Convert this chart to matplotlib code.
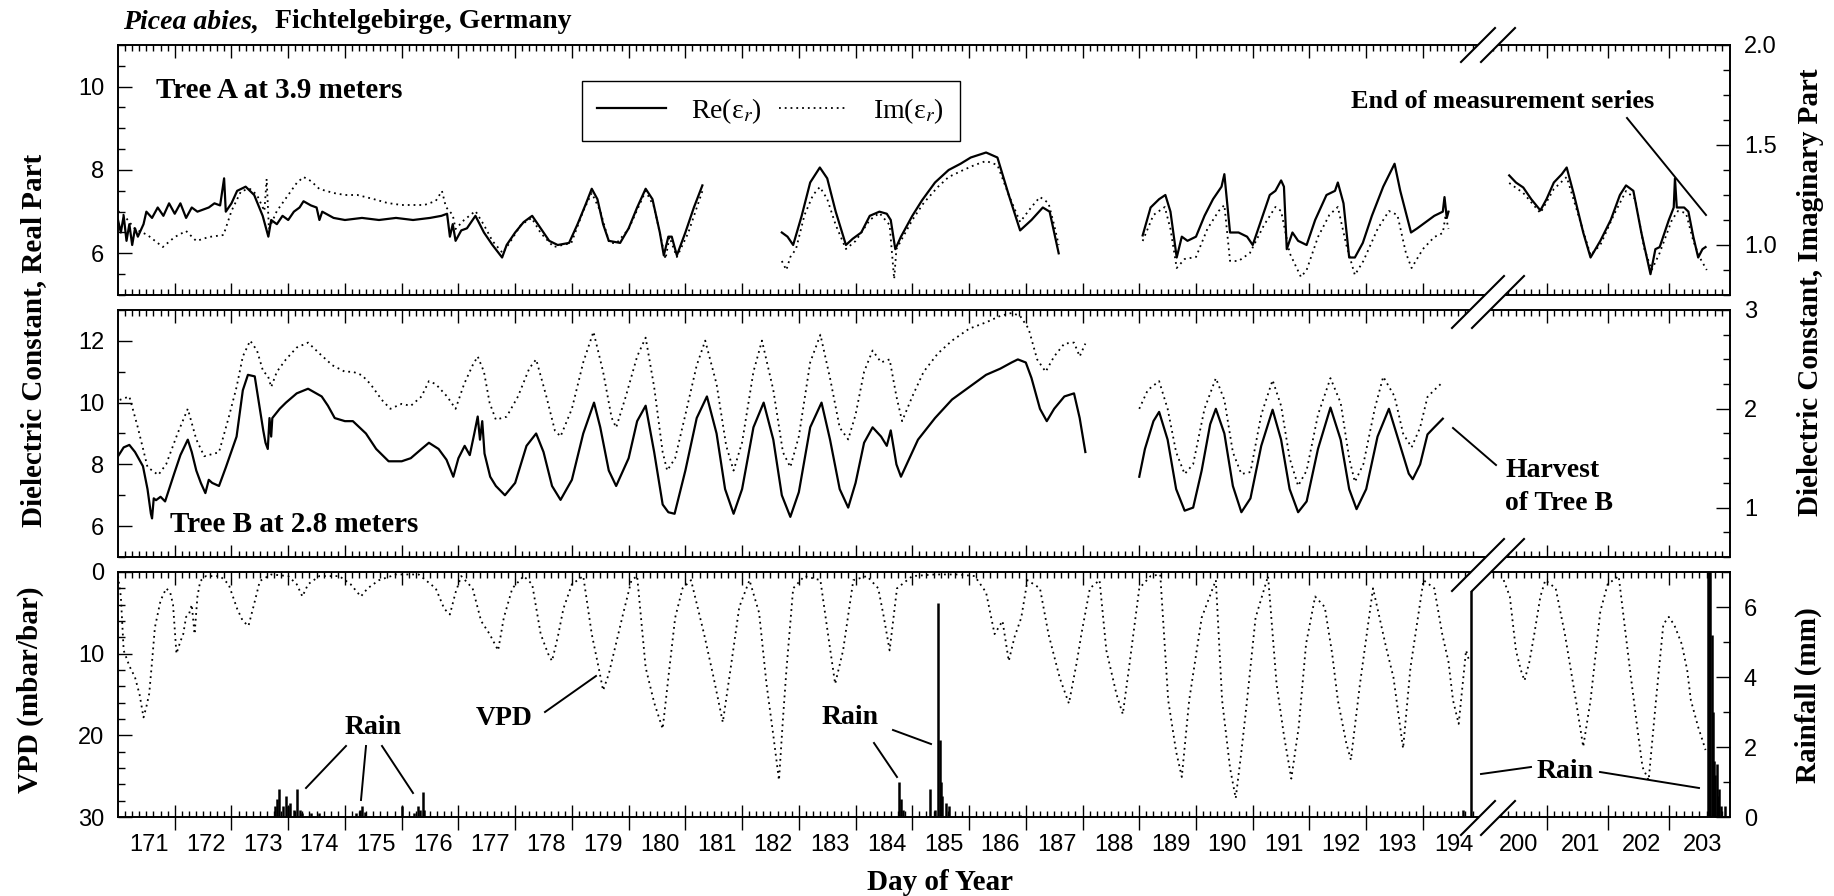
import numpy as np
import matplotlib.pyplot as plt
from matplotlib.lines import Line2D
from matplotlib.patches import Polygon
from matplotlib.ticker import FixedLocator, MultipleLocator

nan = np.nan

# Tree A at 3.9 m, real part (day of year, value); (nan, nan) splits the gaps
tree_a_re = [
    (171.00, 6.80), (171.05, 6.50), (171.10, 6.90), (171.15, 6.30), (171.20, 6.70),
    (171.25, 6.20), (171.30, 6.60), (171.35, 6.40), (171.45, 6.70), (171.50, 7.00),
    (171.60, 6.85), (171.70, 7.10), (171.80, 6.90), (171.90, 7.20), (172.00, 6.95),
    (172.10, 7.20), (172.20, 6.85), (172.30, 7.10), (172.40, 7.00), (172.50, 7.05),
    (172.60, 7.10), (172.70, 7.20), (172.80, 7.15), (172.87, 7.80), (172.90, 7.00),
    (173.00, 7.20), (173.10, 7.50), (173.25, 7.60), (173.40, 7.40), (173.55, 6.90),
    (173.65, 6.40), (173.70, 6.80), (173.80, 6.70), (173.90, 6.90), (174.00, 6.80),
    (174.10, 7.00), (174.20, 7.10), (174.27, 7.25), (174.40, 7.15), (174.50, 7.10),
    (174.55, 6.80), (174.60, 7.00), (174.80, 6.85), (175.00, 6.80), (175.30, 6.85),
    (175.60, 6.80), (175.90, 6.85), (176.20, 6.80), (176.50, 6.85), (176.70, 6.90),
    (176.80, 6.95), (176.85, 6.40), (176.90, 6.70), (176.95, 6.30), (177.05, 6.55),
    (177.15, 6.60), (177.30, 6.90), (177.45, 6.50), (177.60, 6.20), (177.77, 5.90),
    (177.85, 6.20), (178.00, 6.50), (178.15, 6.75), (178.30, 6.90), (178.45, 6.60),
    (178.60, 6.30), (178.75, 6.20), (178.95, 6.25), (179.10, 6.70), (179.25, 7.20),
    (179.35, 7.55), (179.45, 7.30), (179.55, 6.70), (179.65, 6.30), (179.85, 6.25),
    (180.00, 6.60), (180.15, 7.10), (180.30, 7.55), (180.42, 7.30), (180.55, 6.50),
    (180.62, 5.95), (180.70, 6.40), (180.76, 6.40), (180.85, 5.95), (181.00, 6.50),
    (181.15, 7.10), (181.30, 7.63), (nan, nan),
    (182.70, 6.50), (182.80, 6.40), (182.90, 6.20), (183.05, 6.90), (183.20, 7.70),
    (183.37, 8.06), (183.50, 7.80), (183.65, 7.00), (183.83, 6.20), (183.95, 6.35),
    (184.10, 6.50), (184.25, 6.90), (184.42, 7.00), (184.55, 6.95), (184.62, 6.80),
    (184.70, 6.10), (184.80, 6.40), (185.00, 6.90), (185.17, 7.27), (185.40, 7.70),
    (185.64, 8.00), (185.85, 8.15), (186.03, 8.30), (186.30, 8.42), (186.50, 8.30),
    (186.70, 7.40), (186.90, 6.55), (187.10, 6.80), (187.30, 7.10), (187.42, 7.00),
    (187.50, 6.50), (187.58, 6.00), (nan, nan),
    (189.06, 6.43), (189.20, 7.10), (189.35, 7.30), (189.46, 7.40), (189.55, 7.00),
    (189.66, 5.90), (189.75, 6.40), (189.85, 6.30), (190.00, 6.40), (190.15, 6.90),
    (190.30, 7.30), (190.45, 7.60), (190.50, 7.90), (190.55, 7.20), (190.60, 6.50),
    (190.75, 6.50), (190.90, 6.40), (191.00, 6.20), (191.15, 6.80), (191.30, 7.40),
    (191.40, 7.50), (191.50, 7.75), (191.55, 7.60), (191.60, 6.10), (191.70, 6.50),
    (191.80, 6.30), (191.95, 6.20), (192.10, 6.80), (192.30, 7.40), (192.45, 7.50),
    (192.50, 7.70), (192.60, 7.20), (192.70, 5.90), (192.80, 5.90), (192.94, 6.25),
    (193.10, 6.90), (193.30, 7.60), (193.50, 8.15), (193.60, 7.50), (193.79, 6.50),
    (193.90, 6.60), (194.05, 6.75), (194.20, 6.90), (194.35, 7.00), (194.38, 7.35),
    (194.42, 6.85), (194.45, 7.00), (nan, nan),
    (200.39, 7.87), (200.50, 7.70), (200.62, 7.58), (200.75, 7.30), (200.90, 7.03),
    (201.00, 7.30), (201.12, 7.70), (201.25, 7.90), (201.33, 8.06), (201.45, 7.40),
    (201.60, 6.50), (201.72, 5.90), (201.88, 6.30), (202.05, 6.80), (202.20, 7.40),
    (202.30, 7.63), (202.42, 7.50), (202.55, 6.50), (202.70, 5.50), (202.78, 6.10),
    (202.85, 6.15), (203.00, 6.80), (203.08, 7.10), (203.10, 7.80), (203.13, 7.10),
    (203.25, 7.10), (203.32, 7.00), (203.40, 6.40), (203.48, 5.90), (203.55, 6.10),
    (203.60, 6.15),
]

# Tree A, imaginary part (right axis)
tree_a_im = [
    (171.00, 1.17), (171.10, 1.15), (171.30, 1.08), (171.52, 1.05), (171.79, 0.99),
    (172.00, 1.04), (172.20, 1.07), (172.38, 1.02), (172.60, 1.04), (172.86, 1.05),
    (173.00, 1.17), (173.17, 1.27), (173.33, 1.28), (173.45, 1.25), (173.58, 1.17),
    (173.62, 1.33), (173.66, 1.08), (173.80, 1.17), (174.00, 1.25), (174.15, 1.31),
    (174.27, 1.34), (174.40, 1.32), (174.55, 1.28), (174.80, 1.26), (175.00, 1.25),
    (175.22, 1.25), (175.50, 1.23), (175.75, 1.21), (176.00, 1.20), (176.40, 1.20),
    (176.60, 1.22), (176.71, 1.27), (176.78, 1.19), (176.90, 1.15), (176.95, 1.08),
    (177.10, 1.125), (177.30, 1.17), (177.45, 1.10), (177.60, 1.02), (177.78, 0.96),
    (177.90, 1.01), (178.10, 1.10), (178.29, 1.135), (178.45, 1.06), (178.68, 0.99),
    (178.99, 1.01), (179.20, 1.17), (179.35, 1.26), (179.50, 1.17), (179.66, 1.01),
    (179.79, 1.01), (180.00, 1.08), (180.30, 1.27), (180.45, 1.19), (180.65, 0.93),
    (180.72, 1.04), (180.85, 0.94), (181.05, 1.06), (181.30, 1.27), (nan, nan),
    (182.70, 0.92), (182.78, 0.875), (182.85, 0.94), (182.95, 0.98), (183.10, 1.15),
    (183.25, 1.25), (183.37, 1.29), (183.50, 1.23), (183.65, 1.10), (183.83, 0.98),
    (184.00, 1.02), (184.25, 1.125), (184.42, 1.16), (184.60, 1.10), (184.68, 0.83),
    (184.72, 0.98), (185.00, 1.125), (185.20, 1.21), (185.45, 1.29), (185.64, 1.34),
    (185.90, 1.375), (186.10, 1.40), (186.30, 1.42), (186.50, 1.40), (186.70, 1.25),
    (186.90, 1.115), (187.10, 1.19), (187.25, 1.24), (187.40, 1.21), (187.50, 1.10),
    (187.58, 1.00), (nan, nan),
    (189.06, 1.02), (189.25, 1.15), (189.45, 1.19), (189.55, 1.08), (189.66, 0.885),
    (189.80, 0.93), (190.00, 0.94), (190.20, 1.08), (190.40, 1.17), (190.50, 1.20),
    (190.60, 0.92), (190.75, 0.92), (190.95, 0.96), (191.20, 1.10), (191.40, 1.19),
    (191.50, 1.17), (191.65, 0.96), (191.85, 0.84), (191.95, 0.875), (192.15, 1.04),
    (192.35, 1.15), (192.50, 1.19), (192.65, 1.00), (192.80, 0.85), (192.95, 0.92),
    (193.20, 1.08), (193.40, 1.17), (193.55, 1.15), (193.70, 0.96), (193.80, 0.885),
    (194.00, 0.98), (194.20, 1.04), (194.35, 1.06), (194.40, 1.15), (194.45, 1.08),
    (nan, nan),
    (200.39, 1.31), (200.62, 1.26), (200.90, 1.16), (201.12, 1.28), (201.33, 1.34),
    (201.50, 1.17), (201.72, 0.95), (201.88, 1.00), (202.10, 1.15), (202.30, 1.27),
    (202.45, 1.23), (202.60, 0.98), (202.72, 0.875), (202.85, 0.96), (203.05, 1.125),
    (203.15, 1.17), (203.28, 1.16), (203.40, 1.02), (203.50, 0.94), (203.62, 0.875),
]

# Tree B at 2.8 m, real part
tree_b_re = [
    (171.00, 8.26), (171.10, 8.55), (171.20, 8.63), (171.30, 8.40), (171.44, 7.94),
    (171.52, 7.20), (171.58, 6.40), (171.60, 6.25), (171.63, 6.90), (171.67, 6.84),
    (171.75, 6.95), (171.83, 6.80), (171.99, 7.70), (172.10, 8.30), (172.23, 8.80),
    (172.30, 8.40), (172.38, 7.80), (172.46, 7.40), (172.54, 7.07), (172.60, 7.50),
    (172.66, 7.40), (172.78, 7.30), (172.90, 7.90), (173.09, 8.90), (173.20, 10.40),
    (173.29, 10.90), (173.41, 10.85), (173.50, 9.80), (173.56, 9.10), (173.60, 8.70),
    (173.64, 8.50), (173.67, 9.50), (173.70, 8.90), (173.72, 9.50), (173.85, 9.80),
    (173.96, 10.00), (174.15, 10.30), (174.35, 10.45), (174.59, 10.20), (174.70, 9.90),
    (174.82, 9.50), (175.00, 9.40), (175.14, 9.40), (175.37, 9.00), (175.55, 8.50),
    (175.77, 8.10), (176.00, 8.10), (176.16, 8.20), (176.35, 8.50), (176.48, 8.70),
    (176.65, 8.50), (176.79, 8.15), (176.91, 7.60), (177.00, 8.20), (177.11, 8.60),
    (177.20, 8.30), (177.28, 9.00), (177.34, 9.55), (177.38, 8.80), (177.42, 9.40),
    (177.46, 8.35), (177.56, 7.60), (177.66, 7.30), (177.82, 7.00), (178.00, 7.40),
    (178.20, 8.60), (178.37, 9.00), (178.50, 8.40), (178.65, 7.30), (178.80, 6.85),
    (179.00, 7.50), (179.20, 9.00), (179.39, 10.00), (179.50, 9.20), (179.65, 7.80),
    (179.78, 7.30), (180.00, 8.20), (180.15, 9.40), (180.30, 9.90), (180.45, 8.40),
    (180.60, 6.70), (180.70, 6.45), (180.81, 6.40), (181.00, 7.80), (181.20, 9.50),
    (181.38, 10.20), (181.55, 9.00), (181.70, 7.20), (181.85, 6.40), (182.00, 7.20),
    (182.20, 9.20), (182.38, 10.00), (182.55, 8.80), (182.70, 7.00), (182.85, 6.30),
    (183.00, 7.10), (183.20, 9.20), (183.40, 10.00), (183.55, 8.80), (183.72, 7.20),
    (183.87, 6.60), (184.00, 7.40), (184.15, 8.70), (184.30, 9.20), (184.45, 8.90),
    (184.55, 8.60), (184.62, 9.10), (184.72, 8.00), (184.80, 7.60), (184.95, 8.20),
    (185.10, 8.80), (185.40, 9.50), (185.70, 10.10), (186.00, 10.50), (186.30, 10.90),
    (186.55, 11.10), (186.75, 11.30), (186.86, 11.40), (187.00, 11.30), (187.10, 10.80),
    (187.25, 9.80), (187.37, 9.40), (187.50, 9.80), (187.68, 10.20), (187.85, 10.30),
    (187.95, 9.50), (188.05, 8.40), (nan, nan),
    (189.00, 7.60), (189.10, 8.50), (189.25, 9.40), (189.35, 9.70), (189.50, 8.80),
    (189.65, 7.20), (189.80, 6.50), (189.95, 6.60), (190.10, 7.80), (190.25, 9.30),
    (190.35, 9.80), (190.50, 9.00), (190.65, 7.30), (190.80, 6.45), (190.96, 6.90),
    (191.15, 8.60), (191.35, 9.77), (191.50, 8.80), (191.65, 7.20), (191.80, 6.45),
    (191.95, 6.80), (192.15, 8.50), (192.37, 9.84), (192.55, 8.80), (192.70, 7.20),
    (192.83, 6.55), (193.00, 7.20), (193.20, 8.90), (193.40, 9.80), (193.60, 8.60),
    (193.75, 7.70), (193.82, 7.52), (193.95, 8.00), (194.08, 8.97), (194.20, 9.20),
    (194.35, 9.48),
]

# Tree B, imaginary part (right axis)
tree_b_im = [
    (171.03, 2.09), (171.20, 2.125), (171.35, 1.81), (171.52, 1.41), (171.71, 1.33),
    (171.85, 1.44), (172.05, 1.75), (172.23, 2.00), (172.38, 1.69), (172.52, 1.52),
    (172.78, 1.56), (172.95, 1.91), (173.09, 2.22), (173.20, 2.53), (173.33, 2.69),
    (173.45, 2.59), (173.56, 2.375), (173.64, 2.34), (173.70, 2.22), (173.80, 2.375),
    (173.96, 2.50), (174.15, 2.62), (174.35, 2.67), (174.55, 2.56), (174.78, 2.44),
    (175.00, 2.375), (175.14, 2.375), (175.30, 2.34), (175.45, 2.25), (175.65, 2.09),
    (175.80, 2.00), (176.00, 2.05), (176.16, 2.03), (176.35, 2.125), (176.48, 2.28),
    (176.60, 2.25), (176.80, 2.125), (176.95, 2.00), (177.10, 2.25), (177.25, 2.44),
    (177.34, 2.53), (177.45, 2.375), (177.55, 2.06), (177.66, 1.89), (177.85, 1.92),
    (178.05, 2.125), (178.25, 2.41), (178.37, 2.50), (178.55, 2.125), (178.70, 1.78),
    (178.80, 1.72), (179.00, 2.00), (179.20, 2.47), (179.38, 2.78), (179.55, 2.375),
    (179.70, 1.91), (179.78, 1.81), (179.95, 2.125), (180.15, 2.53), (180.30, 2.72),
    (180.45, 2.22), (180.60, 1.56), (180.68, 1.375), (180.82, 1.50), (181.00, 1.94),
    (181.20, 2.44), (181.35, 2.69), (181.55, 2.25), (181.72, 1.625), (181.85, 1.375),
    (182.00, 1.66), (182.20, 2.375), (182.35, 2.69), (182.55, 2.19), (182.72, 1.56),
    (182.85, 1.41), (183.00, 1.72), (183.20, 2.47), (183.38, 2.75), (183.55, 2.31),
    (183.72, 1.81), (183.87, 1.69), (184.00, 1.94), (184.15, 2.375), (184.30, 2.59),
    (184.45, 2.47), (184.60, 2.50), (184.72, 2.125), (184.82, 1.875), (185.00, 2.125),
    (185.20, 2.375), (185.45, 2.56), (185.70, 2.69), (186.00, 2.81), (186.30, 2.875),
    (186.55, 2.94), (186.75, 2.97), (186.90, 2.94), (187.05, 2.81), (187.20, 2.50),
    (187.35, 2.375), (187.50, 2.53), (187.68, 2.66), (187.85, 2.67), (187.95, 2.53),
    (188.05, 2.66), (nan, nan),
    (189.00, 2.00), (189.15, 2.19), (189.35, 2.28), (189.50, 2.00), (189.65, 1.56),
    (189.80, 1.34), (189.95, 1.44), (190.15, 2.00), (190.35, 2.31), (190.50, 2.09),
    (190.65, 1.56), (190.80, 1.34), (190.96, 1.36), (191.15, 1.94), (191.35, 2.29),
    (191.50, 2.03), (191.65, 1.50), (191.80, 1.22), (191.95, 1.375), (192.15, 1.94),
    (192.37, 2.31), (192.55, 2.06), (192.70, 1.50), (192.80, 1.26), (192.95, 1.44),
    (193.15, 2.00), (193.30, 2.325), (193.50, 2.125), (193.65, 1.75), (193.80, 1.61),
    (193.95, 1.81), (194.08, 2.12), (194.20, 2.19), (194.35, 2.27),
]

# vapour pressure deficit (mbar/bar)
vpd = [
    (171.00, 0.5), (171.05, 3.0), (171.10, 9.6), (171.20, 11.5), (171.30, 12.9),
    (171.38, 15.0), (171.45, 17.8), (171.50, 16.5), (171.55, 14.9), (171.60, 11.0),
    (171.65, 6.8), (171.75, 3.5), (171.85, 2.0), (171.92, 2.5), (171.97, 4.0),
    (172.03, 10.0), (172.10, 8.5), (172.15, 7.6), (172.20, 5.5), (172.25, 5.2),
    (172.30, 4.0), (172.35, 7.6), (172.40, 3.0), (172.45, 1.1), (172.55, 0.5),
    (172.80, 0.5), (172.95, 1.5), (173.10, 4.5), (173.20, 6.0), (173.30, 6.6),
    (173.40, 3.9), (173.50, 1.1), (173.70, 0.3), (174.00, 0.5), (174.15, 1.5),
    (174.25, 3.0), (174.35, 1.5), (174.55, 0.5), (174.90, 0.5), (175.10, 1.5),
    (175.28, 3.0), (175.40, 2.0), (175.60, 1.0), (175.90, 0.3), (176.30, 0.3),
    (176.60, 2.0), (176.75, 4.5), (176.85, 5.2), (176.95, 2.5), (177.05, 0.5),
    (177.25, 2.0), (177.40, 6.0), (177.55, 7.6), (177.70, 9.6), (177.80, 5.6),
    (177.95, 2.0), (178.15, 0.5), (178.30, 1.5), (178.45, 7.6), (178.58, 10.0),
    (178.65, 10.9), (178.75, 8.0), (178.85, 4.5), (179.00, 1.5), (179.20, 0.5),
    (179.35, 7.6), (179.48, 12.0), (179.55, 14.5), (179.65, 12.5), (179.75, 9.6),
    (179.90, 5.2), (180.05, 1.0), (180.15, 0.5), (180.30, 11.7), (180.45, 16.0),
    (180.60, 19.2), (180.72, 11.7), (180.82, 5.6), (180.95, 2.0), (181.10, 1.0),
    (181.33, 7.6), (181.50, 13.0), (181.66, 18.4), (181.80, 11.7), (181.95, 4.3),
    (182.13, 1.0), (182.30, 5.0), (182.43, 13.7), (182.55, 20.0), (182.65, 25.5),
    (182.72, 18.0), (182.78, 12.1), (182.90, 2.0), (183.10, 0.5), (183.38, 1.0),
    (183.53, 8.4), (183.64, 13.7), (183.78, 9.6), (183.96, 1.0), (184.20, 0.5),
    (184.40, 2.0), (184.50, 5.6), (184.60, 9.6), (184.73, 2.0), (185.00, 0.5),
    (185.40, 0.3), (185.80, 0.3), (186.10, 0.5), (186.30, 2.5), (186.45, 7.6),
    (186.59, 6.0), (186.70, 10.9), (186.80, 8.0), (186.92, 5.6), (187.03, 1.0),
    (187.25, 2.0), (187.40, 7.6), (187.60, 13.0), (187.76, 16.1), (187.90, 11.0),
    (187.98, 7.6), (188.13, 2.0), (188.30, 1.0), (188.42, 9.6), (188.60, 15.0),
    (188.71, 17.4), (188.82, 11.7), (189.00, 2.0), (189.20, 0.5), (189.37, 0.3),
    (189.51, 15.7), (189.65, 22.0), (189.75, 25.1), (189.88, 15.7), (190.10, 5.6),
    (190.35, 1.0), (190.46, 15.7), (190.60, 24.0), (190.70, 27.7), (190.80, 22.0),
    (190.90, 15.7), (191.05, 5.6), (191.27, 0.5), (191.42, 13.7), (191.55, 20.0),
    (191.68, 25.3), (191.81, 19.0), (191.94, 8.8), (192.10, 3.0), (192.27, 4.3),
    (192.40, 10.0), (192.50, 15.7), (192.65, 21.0), (192.73, 23.0), (192.89, 13.7),
    (193.12, 2.0), (193.35, 9.2), (193.48, 12.9), (193.58, 18.0), (193.65, 21.6),
    (193.78, 11.7), (194.01, 1.0), (194.20, 2.0), (194.34, 7.6), (194.45, 11.0),
    (194.53, 15.7), (194.63, 18.6), (194.76, 9.6), (194.82, 11.0), (nan, nan),
    (200.30, 1.0), (200.40, 3.0), (200.50, 9.6), (200.58, 12.0), (200.64, 13.3),
    (200.72, 11.0), (200.80, 7.6), (200.90, 3.0), (200.98, 1.0), (201.15, 2.0),
    (201.30, 7.6), (201.48, 15.7), (201.60, 21.4), (201.72, 15.7), (201.88, 4.8),
    (202.00, 1.5), (202.18, 0.5), (202.36, 11.7), (202.50, 20.0), (202.57, 23.9),
    (202.67, 25.5), (202.79, 15.7), (202.91, 6.4), (203.00, 5.5), (203.09, 6.5),
    (203.21, 8.8), (203.30, 12.0), (203.36, 15.7), (203.48, 19.0), (203.55, 20.6),
    (203.60, 21.8),
]

# rainfall (mm)
rain_day = [173.76, 173.80, 173.84, 173.90, 173.96, 174.00, 174.04, 174.10, 174.16,
            174.20, 174.25, 174.40, 174.55, 175.20, 175.27, 175.30, 175.35, 176.00,
            176.22, 176.28, 176.33, 176.38, 176.40, 184.77, 184.80, 184.84, 185.32,
            185.40, 185.46, 185.48, 185.50, 185.53, 185.60, 185.65, 186.90, 194.70,
            194.85, 203.64, 203.66, 203.68, 203.70, 203.72, 203.74, 203.76, 203.78,
            203.80, 203.82, 203.85, 203.92]
rain_mm = [0.3, 0.5, 0.8, 0.3, 0.6, 0.3, 0.4, 0.2, 0.8,
           0.2, 0.1, 0.1, 0.1, 0.1, 0.2, 0.3, 0.15, 0.3,
           0.1, 0.3, 0.2, 0.7, 0.2, 1.0, 0.5, 0.2, 0.8,
           0.2, 6.1, 2.2, 1.0, 0.6, 0.4, 0.3, 0.05, 0.2,
           6.5, 7.0, 7.0, 7.0, 5.2, 3.0, 1.6, 1.2, 1.5,
           0.6, 0.8, 0.3, 0.3]

label_days = list(range(171, 195)) + [200, 201, 202, 203]


# broken day axis: 195-200 collapsed, last days a bit wider
def fwd(d):
    d = np.asarray(d, dtype=float)
    return np.where(d < 197.5, np.minimum(d, 195.05),
                    np.maximum(195.1 + (d - 200) * 1.078, 195.05))


def inv(x):
    x = np.asarray(x, dtype=float)
    return np.where(x <= 195.05, x, 200 + (x - 195.1) / 1.078)


plt.rcParams['font.family'] = ['Liberation Sans', 'DejaVu Sans']
plt.rcParams['mathtext.fontset'] = 'stix'
plt.rcParams['axes.linewidth'] = 1.2
SERIF = ['Liberation Serif', 'DejaVu Serif']

W, H = 1834, 896
fig = plt.figure(figsize=(W / 100, H / 100), dpi=100)
L, R = 118, 1730


def box(top, bot):
    return [L / W, 1 - bot / H, (R - L) / W, (bot - top) / H]


ax1 = fig.add_axes(box(45, 295))
ax2 = fig.add_axes(box(310, 557))
ax3 = fig.add_axes(box(572, 817))

major_x = list(range(172, 195)) + [201, 202, 203]
minor_x = [d + k / 8 for d in list(range(171, 195)) + list(range(200, 204))
           for k in range(1, 8)]

for ax in (ax1, ax2, ax3):
    ax.set_xscale('function', functions=(fwd, inv))
    ax.set_xlim(171, 204)
    ax.xaxis.set_major_locator(FixedLocator(major_x))
    ax.xaxis.set_minor_locator(FixedLocator(minor_x))
    ax.tick_params(axis='x', which='both', direction='in', top=True, bottom=True,
                   labelbottom=False, width=1)
    ax.tick_params(axis='x', which='major', length=9)
    ax.tick_params(axis='x', which='minor', length=4)

ax1r = ax1.twinx()
ax2r = ax2.twinx()
ax3r = ax3.twinx()

for ax in (ax1, ax2, ax3, ax1r, ax2r, ax3r):
    ax.tick_params(axis='y', which='major', direction='in', length=10, width=1,
                   labelsize=17, pad=10)
    ax.tick_params(axis='y', which='minor', direction='in', length=5, width=1)

# bottom panel: day ticks cross the bottom spine, top ticks stay inside
ax3.tick_params(axis='x', which='both', top=False)
ax3.tick_params(axis='x', which='major', direction='inout', length=18)
ax3r.xaxis.set_visible(True)
ax3r.tick_params(axis='x', which='both', direction='in', top=True, bottom=False,
                 labelbottom=False, labeltop=False, width=1)
ax3r.tick_params(axis='x', which='major', length=9)
ax3r.tick_params(axis='x', which='minor', length=4)

ax1.set_ylim(5, 11)
ax1.set_yticks([6, 8, 10])
ax1.yaxis.set_minor_locator(MultipleLocator(0.5))
ax1r.set_ylim(0.75, 2.0)
ax1r.set_yticks([1.0, 1.5, 2.0], ['1.0', '1.5', '2.0'])
ax1r.yaxis.set_minor_locator(MultipleLocator(0.125))

ax2.set_ylim(5, 13)
ax2.set_yticks([6, 8, 10, 12])
ax2.yaxis.set_minor_locator(MultipleLocator(1))
ax2r.set_ylim(0.5, 3.0)
ax2r.set_yticks([1, 2, 3])
ax2r.yaxis.set_minor_locator(MultipleLocator(0.25))

ax3.set_ylim(30, 0)
ax3.set_yticks([0, 10, 20, 30])
ax3.yaxis.set_minor_locator(MultipleLocator(2))
ax3r.set_ylim(0, 7)
ax3r.set_yticks([0, 2, 4, 6])
ax3r.yaxis.set_minor_locator(MultipleLocator(1))

DOT = (0, (1, 2.2))
a_re = np.array(tree_a_re).T
a_im = np.array(tree_a_im).T
b_re = np.array(tree_b_re).T
b_im = np.array(tree_b_im).T
vp = np.array(vpd).T

ax1.plot(a_re[0], a_re[1], color='k', lw=1.6)
ax1r.plot(a_im[0], a_im[1], color='k', lw=1.3, ls=DOT)
ax2.plot(b_re[0], b_re[1], color='k', lw=1.6)
ax2r.plot(b_im[0], b_im[1], color='k', lw=1.3, ls=DOT)
ax3.plot(vp[0], vp[1], color='k', lw=1.3, ls=DOT)
ax3r.vlines(rain_day, 0, rain_mm, color='k', lw=1.8)

for d in label_days:
    ax3.text(d + 0.55, -0.115, str(d), transform=ax3.get_xaxis_transform(),
             ha='center', va='center', fontsize=17)

leg = ax1r.legend(handles=[Line2D([], [], color='k', lw=1.6),
                           Line2D([], [], color='k', lw=1.3, ls=DOT)],
                  labels=[r'Re(ε$_r$)', r'Im(ε$_r$)'], ncol=2, loc='upper left',
                  bbox_to_anchor=(0.279, 0.912), fancybox=False, edgecolor='k',
                  framealpha=1, prop={'family': SERIF, 'size': 20},
                  handlelength=2.5, handletextpad=0.9, columnspacing=0.6,
                  borderpad=0.55)
leg.get_frame().set_linewidth(1.0)


# annotations placed in figure pixels (y from the top)
def fpt(x, y):
    return x / W, 1 - y / H


def ftext(x, y, s, size=20, **kw):
    fig.text(*fpt(x, y), s, family=SERIF, weight='bold', size=size, **kw)


def fline(p0, p1, lw=1.4):
    (x0, y0), (x1, y1) = fpt(*p0), fpt(*p1)
    fig.add_artist(Line2D([x0, x1], [y0, y1], transform=fig.transFigure,
                          color='k', lw=lw))


ftext(123, 22, 'Picea abies,', style='italic', va='center')
ftext(275, 22, 'Fichtelgebirge, Germany', va='center')

ftext(34, 340, 'Dielectric Constant, Real Part', size=21, rotation=90,
      ha='center', va='center')
ftext(1810, 292, 'Dielectric Constant, Imaginary Part', size=21, rotation=90,
      ha='center', va='center')
ftext(30, 690, 'VPD (mbar/bar)', size=21, rotation=90, ha='center', va='center')
ftext(1808, 695, 'Rainfall (mm)', size=21, rotation=90, ha='center', va='center')
ftext(940, 882, 'Day of Year', size=21, ha='center', va='center')

ftext(156, 90, 'Tree A at 3.9 meters', size=21, va='center')
ftext(170, 525, 'Tree B at 2.8 meters', size=21, va='center')
ftext(1503, 101, 'End of measurement series', size=19, ha='center', va='center')
fline((1627, 118), (1706, 215))
ftext(1505, 470, 'Harvest', va='center')
ftext(1505, 503, 'of Tree B', va='center')
fline((1453, 428), (1496, 465))

ftext(373, 727, 'Rain', ha='center', va='center')
fline((346, 746), (306, 788))
fline((366, 746), (361, 800))
fline((382, 746), (413, 793))
ftext(504, 718, 'VPD', ha='center', va='center')
fline((545, 712), (596, 676))
ftext(850, 717, 'Rain', ha='center', va='center')
fline((874, 743), (897, 777))
fline((893, 730), (931, 744))
ftext(1565, 771, 'Rain', ha='center', va='center')
fline((1481, 774), (1531, 767))
fline((1600, 772), (1699, 788))

# axis-break marks
CX = 1488


def axis_break(cy, h, off=10):
    pts = [(CX - off - h, cy + h), (CX - off + h, cy - h),
           (CX + off + h, cy - h), (CX + off - h, cy + h)]
    fig.add_artist(Polygon([fpt(*p) for p in pts], closed=True,
                           transform=fig.transFigure, facecolor='white',
                           edgecolor='none', zorder=5))
    for dx in (-off, off):
        (x0, y0), (x1, y1) = fpt(CX + dx - h, cy + h), fpt(CX + dx + h, cy - h)
        fig.add_artist(Line2D([x0, x1], [y0, y1], transform=fig.transFigure,
                              color='k', lw=1.5, zorder=6))


axis_break(45, 17)
axis_break(302, 26)
axis_break(565, 26)
axis_break(818, 17)

fig.savefig('out.png', dpi=100)
